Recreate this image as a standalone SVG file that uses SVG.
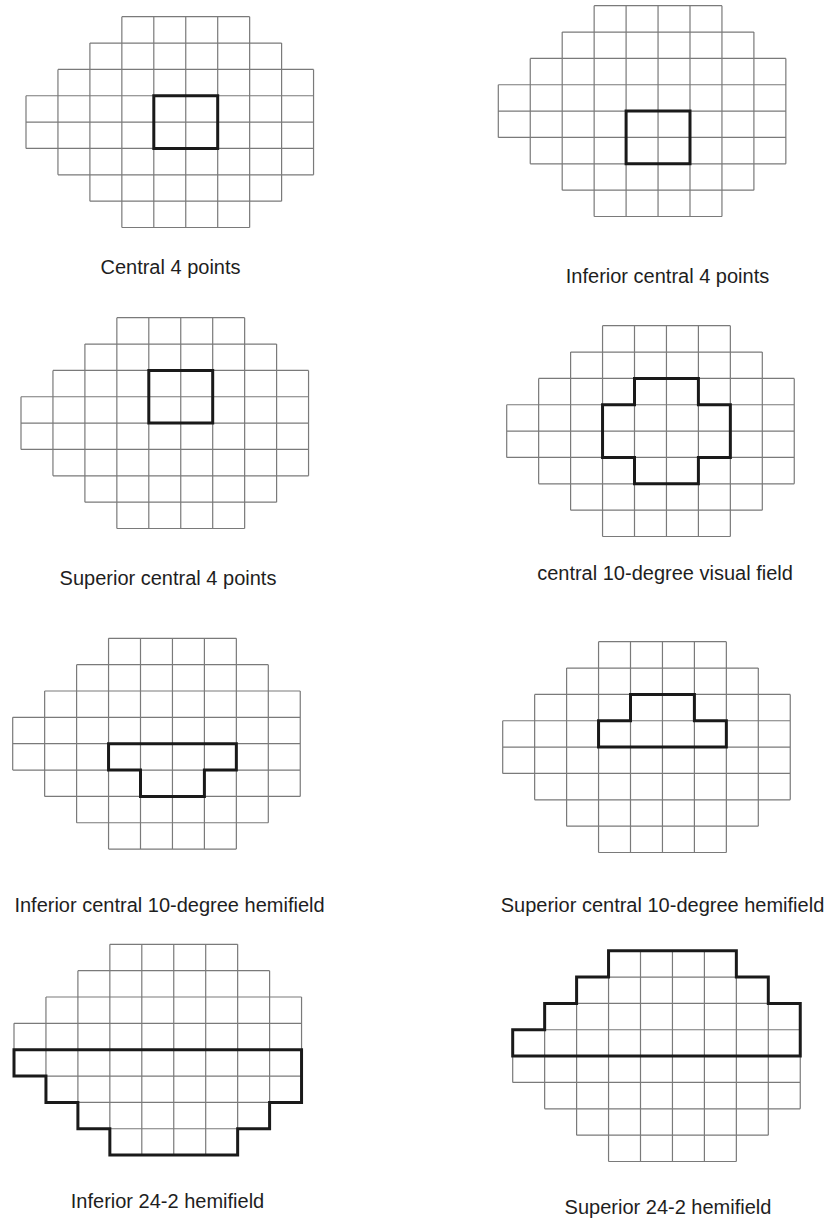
<svg xmlns="http://www.w3.org/2000/svg" xmlns:xlink="http://www.w3.org/1999/xlink" width="833" height="1224" viewBox="0 0 833 1224">
<style>
.grid{fill:none;stroke:#7a7a7a;stroke-width:1.2}
.hl{fill:none;stroke:#1a1a1a;stroke-width:3;stroke-linejoin:miter}
.lbl{font-family:"Liberation Sans",Arial,sans-serif;font-size:20px;fill:#1e1e1e;text-anchor:middle}
</style>
<defs>
<path id="g" class="grid" d="M95.85,0H223.65 M63.9,26.35H255.6 M31.95,52.7H287.55 M0,79.05H287.55 M0,105.4H287.55 M0,131.75H287.55 M31.95,158.1H287.55 M63.9,184.45H255.6 M95.85,210.8H223.65 M0,79.05V131.75 M31.95,52.7V158.1 M63.9,26.35V184.45 M95.85,0V210.8 M127.8,0V210.8 M159.75,0V210.8 M191.7,0V210.8 M223.65,0V210.8 M255.6,26.35V184.45 M287.55,52.7V158.1"/>
</defs>
<rect width="833" height="1224" fill="#fff"/>
<g id="central4" transform="translate(26,16.7)">
<use xlink:href="#g"/>
<path class="hl" d="M127.8,79.05H191.7V131.75H127.8Z"/>
</g>
<g id="inferior-central4" transform="translate(498.3,5.7)">
<use xlink:href="#g"/>
<path class="hl" d="M127.8,105.4H191.7V158.1H127.8Z"/>
</g>
<g id="superior-central4" transform="translate(21,317.7)">
<use xlink:href="#g"/>
<path class="hl" d="M127.8,52.7H191.7V105.4H127.8Z"/>
</g>
<g id="central10" transform="translate(506.7,325.7)">
<use xlink:href="#g"/>
<path class="hl" d="M127.8,52.7H191.7V79.05H223.65V131.75H191.7V158.1H127.8V131.75H95.85V79.05H127.8Z"/>
</g>
<g id="inferior-central10" transform="translate(12.7,638.3)">
<use xlink:href="#g"/>
<path class="hl" d="M95.85,105.4H223.65V131.75H191.7V158.1H127.8V131.75H95.85Z"/>
</g>
<g id="superior-central10" transform="translate(502.7,641.7)">
<use xlink:href="#g"/>
<path class="hl" d="M127.8,52.7H191.7V79.05H223.65V105.4H95.85V79.05H127.8Z"/>
</g>
<g id="inferior-242" transform="translate(14,944.3)">
<use xlink:href="#g"/>
<path class="hl" d="M0,105.4H287.55V158.1H255.6V184.45H223.65V210.8H95.85V184.45H63.9V158.1H31.95V131.75H0Z"/>
</g>
<g id="superior-242" transform="translate(512.7,950.7)">
<use xlink:href="#g"/>
<path class="hl" d="M95.85,0H223.65V26.35H255.6V52.7H287.55V105.4H0V79.05H31.95V52.7H63.9V26.35H95.85Z"/>
</g>
<g id="labels">
<text class="lbl" x="170.5" y="274">Central 4 points</text>
<text class="lbl" x="667.5" y="283">Inferior central 4 points</text>
<text class="lbl" x="168" y="585">Superior central 4 points</text>
<text class="lbl" x="665" y="580">central 10-degree visual field</text>
<text class="lbl" x="169.5" y="912">Inferior central 10-degree hemifield</text>
<text class="lbl" x="662.5" y="912">Superior central 10-degree hemifield</text>
<text class="lbl" x="167.5" y="1208">Inferior 24-2 hemifield</text>
<text class="lbl" x="668" y="1214">Superior 24-2 hemifield</text>
</g>
</svg>
